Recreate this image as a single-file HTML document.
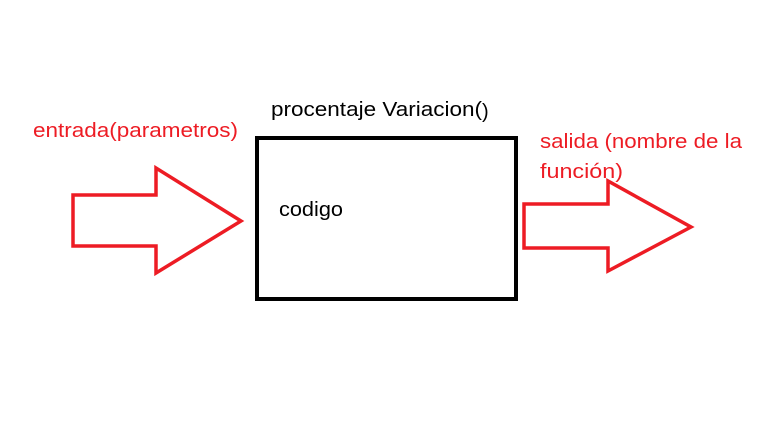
<!DOCTYPE html>
<html><head><meta charset="utf-8"><style>
html,body{margin:0;padding:0;background:#fff;}
svg{display:block;}
text{font-family:"Liberation Sans",sans-serif;font-size:20px;}
</style></head><body>
<svg width="768" height="432" viewBox="0 0 768 432" xmlns="http://www.w3.org/2000/svg">
<rect x="0" y="0" width="768" height="432" fill="#fff"/>
<rect x="257" y="138" width="259" height="161" fill="none" stroke="#000" stroke-width="4"/>
<polygon points="73,195 156,195 156,168 241,221 156,273 156,246 73,246" fill="none" stroke="#ed1c24" stroke-width="3.5" stroke-linejoin="miter"/>
<polygon points="524,204 608,204 608,181 691,227 608,271 608,248 524,248" fill="none" stroke="#ed1c24" stroke-width="3.5" stroke-linejoin="miter"/>
<text x="33" y="137" fill="#ed1c24" textLength="205" lengthAdjust="spacingAndGlyphs">entrada(parametros)</text>
<text x="271" y="116" fill="#000" textLength="211" lengthAdjust="spacingAndGlyphs">procentaje Variacion(</text>
<text x="482" y="118" fill="#000" font-size="11">)</text>
<text x="279" y="216" fill="#000" textLength="64" lengthAdjust="spacingAndGlyphs">codigo</text>
<text x="540" y="148" fill="#ed1c24" textLength="202" lengthAdjust="spacingAndGlyphs">salida (nombre de la</text>
<text x="540" y="178" fill="#ed1c24" textLength="83" lengthAdjust="spacingAndGlyphs">función)</text>
</svg>
</body></html>
